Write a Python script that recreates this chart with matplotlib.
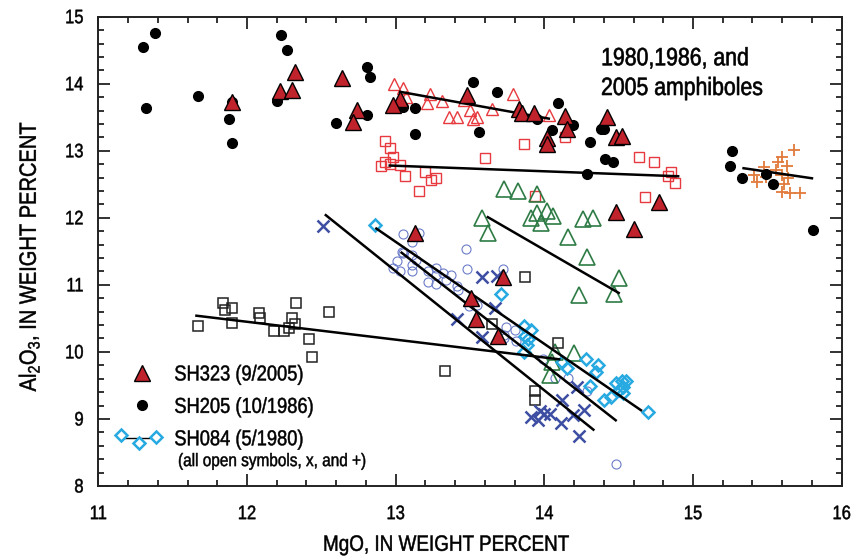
import matplotlib
matplotlib.use("Agg")
import matplotlib.pyplot as plt
from matplotlib.lines import Line2D
from matplotlib.ticker import MultipleLocator
from matplotlib.patheffects import AbstractPathEffect
from matplotlib.transforms import Affine2D

plt.rcParams['font.family'] = ['Liberation Sans', 'DejaVu Sans']
plt.rcParams['mathtext.fontset'] = 'custom'
plt.rcParams['mathtext.rm'] = 'Liberation Sans'
plt.rcParams['mathtext.it'] = 'Liberation Sans'

# ---------------- data ----------------
sh323_x = [11.90, 12.22, 12.30, 12.32, 12.64, 12.74, 12.71, 13.03, 12.98, 13.48, 13.83, 13.85, 13.93, 14.14,
           14.15, 14.02, 14.02, 14.42, 14.48, 14.52, 14.48, 14.60, 14.77, 13.72, 13.13, 13.51, 13.54, 13.69]
sh323_y = [13.73, 13.89, 13.91, 14.18, 14.09, 13.61, 13.43, 13.77, 13.68, 13.83, 13.63, 13.56, 13.56, 13.52,
           13.32, 13.19, 13.10, 13.50, 13.21, 13.22, 12.08, 11.83, 12.23, 11.11, 11.77, 10.80, 10.49, 10.24]

sh205_x = [11.30, 11.38, 11.32, 11.67, 11.90, 11.88, 11.90, 12.23, 12.27, 12.20, 12.60, 12.81, 12.83, 12.81,
           13.05, 13.13, 13.13, 13.52, 13.68, 13.56, 14.09, 14.05, 14.19, 13.95, 14.31, 14.38, 14.40, 14.41,
           14.46, 14.29, 15.26, 15.25, 15.33, 15.49, 15.54, 15.81]
sh205_y = [14.55, 14.75, 13.64, 13.82, 13.73, 13.48, 13.11, 14.72, 14.50, 13.75, 13.42, 14.25, 14.10, 13.53,
           13.66, 13.64, 13.25, 14.02, 13.87, 13.28, 13.72, 13.31, 13.39, 13.47, 13.13, 13.33, 13.32, 12.88,
           12.83, 12.66, 12.99, 12.77, 12.59, 12.65, 12.50, 11.82]

# SH084 (5/1980) groups
red_tri_x = [12.99, 13.05, 13.07, 13.23, 13.21, 13.31, 13.36, 13.41, 13.50, 13.46, 13.52, 13.55, 13.65, 13.79, 14.03]
red_tri_y = [13.99, 13.93, 13.80, 13.85, 13.72, 13.75, 13.50, 13.51, 13.61, 13.76, 13.48, 13.50, 13.62, 13.85, 13.53]

red_sq_x = [12.93, 12.96, 12.98, 12.93, 12.90, 12.96, 13.03, 13.06, 13.20, 13.24, 13.27, 13.16, 13.60, 13.86,
            13.94, 14.14, 14.64, 14.74, 14.85, 14.83, 14.88, 14.68]
red_sq_y = [13.14, 13.04, 12.90, 12.84, 12.78, 12.80, 12.79, 12.62, 12.68, 12.56, 12.59, 12.40, 12.89, 13.10,
            12.33, 13.21, 12.90, 12.84, 12.68, 12.62, 12.52, 12.31]

green_tri_x = [13.73, 13.82, 13.95, 13.91, 13.95, 13.98, 14.02, 14.06, 14.16, 14.26, 14.33, 14.29, 14.50, 14.47,
               14.23, 13.58, 13.62, 14.07, 14.20, 14.05, 14.04]
green_tri_y = [12.43, 12.40, 12.36, 11.99, 12.07, 11.93, 12.10, 12.03, 11.71, 11.98, 12.00, 11.41, 11.10, 10.86,
               10.85, 11.99, 11.77, 10.00, 9.98, 9.85, 9.65]

black_sq_x = [11.67, 11.84, 11.85, 11.90, 11.90, 12.08, 12.09, 12.18, 12.25, 12.28, 12.30, 12.32, 12.33, 12.42,
              12.44, 12.55, 13.87, 13.65, 14.09, 13.33, 13.94, 13.94]
black_sq_y = [10.39, 10.73, 10.62, 10.65, 10.43, 10.58, 10.50, 10.31, 10.31, 10.35, 10.50, 10.42, 10.73, 10.19,
              9.93, 10.59, 11.11, 10.41, 10.14, 9.72, 9.42, 9.29]

blue_x_x = [12.51, 13.58, 13.68, 13.67, 13.41, 13.58, 14.12, 14.22, 14.27, 14.19, 14.11, 14.23, 13.91, 13.97,
            14.00, 14.04, 13.96]
blue_x_y = [11.88, 11.12, 11.13, 10.65, 10.49, 10.22, 9.29, 9.48, 9.14, 9.06, 8.94, 8.74, 9.03, 9.12,
            9.08, 9.07, 8.99]

diamond_x = [12.86, 13.71, 13.86, 13.91, 13.87, 13.89, 13.88, 13.86, 14.28, 14.36, 14.35, 14.15, 14.12, 14.31,
             14.40, 14.45, 14.48, 14.52, 14.55, 14.50, 14.53, 14.53, 14.70]
diamond_y = [11.89, 10.87, 10.38, 10.33, 10.23, 10.19, 10.10, 10.00, 9.89, 9.80, 9.70, 9.76, 9.85, 9.49,
             9.29, 9.33, 9.53, 9.56, 9.56, 9.43, 9.38, 9.48, 9.11]

circle_x = [13.05, 13.11, 13.16, 13.04, 13.05, 13.11, 13.14, 13.01, 12.98, 13.03, 13.11, 13.11, 13.22, 13.27,
            13.27, 13.32, 13.37, 13.22, 13.27, 13.34, 13.41, 13.42, 13.47, 13.48, 13.72, 13.49, 13.55, 13.74,
            13.80, 13.73, 13.81, 13.99, 14.07, 14.16, 14.29, 14.48, 13.73]
circle_y = [11.76, 11.64, 11.77, 11.49, 11.47, 11.44, 11.37, 11.35, 11.25, 11.21, 11.30, 11.20, 11.20, 11.25,
            11.15, 11.17, 11.15, 11.05, 11.02, 11.07, 10.98, 10.92, 11.53, 11.23, 11.23, 10.68, 10.70, 10.37,
            10.33, 10.25, 10.16, 9.90, 9.61, 9.61, 9.41, 8.33, 10.20]

plus_x = [15.60, 15.68, 15.57, 15.63, 15.48, 15.41, 15.43, 15.49, 15.56, 15.60, 15.64, 15.61, 15.65, 15.72, 15.60]
plus_y = [12.91, 13.01, 12.84, 12.77, 12.76, 12.64, 12.54, 12.61, 12.71, 12.64, 12.59, 12.51, 12.37, 12.37, 12.39]

# regression lines (start, end)
fit_x = [[13.03, 14.03], [12.96, 14.90], [15.34, 15.80], [13.62, 14.50],
         [11.66, 14.10], [12.87, 14.65], [13.04, 14.48], [12.53, 14.33]]
fit_y = [[13.88, 13.48], [12.78, 12.62], [12.74, 12.59], [12.01, 10.88],
         [10.54, 9.89], [11.84, 9.13], [11.48, 8.98], [12.04, 8.84]]

x_ticks = [11, 12, 13, 14, 15, 16]
y_ticks = [8, 9, 10, 11, 12, 13, 14, 15]
legend_labels = ['SH323 (9/2005)', 'SH205 (10/1986)', 'SH084 (5/1980)']

# ---------------- colours ----------------
C_RED_FILL = '#c0232b'
C_RED = '#e63a3f'
C_GREEN = '#2e7b45'
C_BLUE_X = '#3d4ea3'
C_DIAM = '#27aae1'
C_CIRC = '#6b7cc8'
C_ORANGE = '#e07b3c'
C_BSQ = '#222222'


class Condensed(AbstractPathEffect):
    """Draw text horizontally condensed (emulates a condensed typeface)."""

    def __init__(self, scale=0.85, anchor='center', stroke=0.35):
        super().__init__()
        self.scale = scale
        self.anchor = anchor
        self.stroke = stroke

    def draw_path(self, renderer, gc, tpath, affine, rgbFace=None):
        ext = tpath.get_extents()
        if self.anchor == 'left':
            cx = ext.x0
        elif self.anchor == 'right':
            cx = ext.x1
        else:
            cx = 0.5 * (ext.x0 + ext.x1)
        t = Affine2D().translate(-cx, 0).scale(self.scale, 1.0).translate(cx, 0) + affine
        gc0 = renderer.new_gc()
        gc0.copy_properties(gc)
        if self.stroke and rgbFace is not None:
            gc0.set_linewidth(self.stroke)
            gc0.set_foreground(rgbFace)
        renderer.draw_path(gc0, tpath, t, rgbFace)
        gc0.restore()


S = 0.85

fig = plt.figure(figsize=(8.52, 5.57), dpi=100)
ax = fig.add_axes([0.1154, 0.1275, 0.8725, 0.8425])

# open symbols (SH084)
ax.plot(circle_x, circle_y, ls='none', marker='o', ms=6.5, mfc='none', mec=C_CIRC, mew=0.8, zorder=2)
ax.plot(red_tri_x, red_tri_y, ls='none', marker='^', ms=8, mfc='none', mec=C_RED, mew=1.0, zorder=2)
ax.plot(red_sq_x, red_sq_y, ls='none', marker='s', ms=7.5, mfc='none', mec=C_RED, mew=1.0, zorder=2)
ax.plot(green_tri_x, green_tri_y, ls='none', marker='^', ms=11, mfc='none', mec=C_GREEN, mew=1.2, zorder=2)
ax.plot(black_sq_x, black_sq_y, ls='none', marker='s', ms=7.5, mfc='none', mec=C_BSQ, mew=1.1, zorder=2)
ax.plot(blue_x_x, blue_x_y, ls='none', marker='x', ms=8.5, mec=C_BLUE_X, mew=1.8, zorder=2)
ax.plot(diamond_x, diamond_y, ls='none', marker='D', ms=6.5, mfc='none', mec=C_DIAM, mew=1.8, zorder=2)
ax.plot(plus_x, plus_y, ls='none', marker='+', ms=9, mec=C_ORANGE, mew=1.3, zorder=2)

# SH205 and SH323
ax.plot(sh205_x, sh205_y, ls='none', marker='o', ms=7, mfc='black', mec='black', zorder=3)
ax.plot(sh323_x, sh323_y, ls='none', marker='^', ms=11, mfc=C_RED_FILL, mec='black', mew=1.0, zorder=4)

for xs, ys in zip(fit_x, fit_y):
    ax.plot(xs, ys, color='black', lw=1.8, zorder=3.5)

ax.set_xlim(11, 16)
ax.set_ylim(8, 15)
ax.set_xticks(x_ticks)
ax.set_yticks(y_ticks)
ax.xaxis.set_minor_locator(MultipleLocator(0.2))
ax.yaxis.set_minor_locator(MultipleLocator(0.2))
ax.tick_params(which='both', direction='in', top=True, right=True, color='#222222', width=1.3)
ax.tick_params(which='major', length=8.5)
ax.tick_params(which='minor', length=4.3)
ax.tick_params(axis='x', which='major', pad=14.5, labelsize=14)
ax.tick_params(axis='y', which='major', pad=10.5, labelsize=14)
for sp in ax.spines.values():
    sp.set_linewidth(1.4)
    sp.set_color('#222222')

for lab in ax.get_xticklabels():
    lab.set_path_effects([Condensed(S, 'center')])
for lab in ax.get_yticklabels():
    lab.set_path_effects([Condensed(S, 'right')])

xl = ax.set_xlabel('MgO, IN WEIGHT PERCENT', fontsize=16)
xl.set_path_effects([Condensed(S, 'center')])
ax.xaxis.set_label_coords(0.468, -0.104)
yl = ax.set_ylabel(r'Al$_\mathrm{2}$O$_\mathrm{3}$, IN WEIGHT PERCENT', fontsize=17)
yl.set_path_effects([Condensed(S, 'center')])
ax.yaxis.set_label_coords(-0.076, 0.49)

ann = ax.text(0.676, 0.937, '1980,1986, and\n2005 amphiboles', transform=ax.transAxes,
              fontsize=18, va='top', ha='left', linespacing=1.3)
ann.set_path_effects([Condensed(S, 'left', 0.45)])


# ---------------- legend ----------------
class MarkerHandler:
    def __init__(self, xfr, yfr, line=False, **kw):
        self.xfr, self.yfr, self.line, self.kw = xfr, yfr, line, kw

    def legend_artist(self, legend, orig_handle, fontsize, handlebox):
        x0, y0 = handlebox.xdescent, handlebox.ydescent
        w, h = handlebox.width, handlebox.height
        tr = handlebox.get_transform()
        if self.line:
            ln = Line2D([x0 + w * self.xfr[0], x0 + w * self.xfr[-1]], [y0 + h * 0.5] * 2,
                        color='black', lw=1.0, transform=tr)
            handlebox.add_artist(ln)
        mk = Line2D([x0 + w * f for f in self.xfr], [y0 + h * f for f in self.yfr],
                    ls='none', transform=tr, **self.kw)
        handlebox.add_artist(mk)
        return mk


h1 = Line2D([], [])
h2 = Line2D([], [])
h3 = Line2D([], [])
hmap = {
    h1: MarkerHandler([0.6], [0.5], marker='^', ms=11, mfc=C_RED_FILL, mec='black', mew=1.0),
    h2: MarkerHandler([0.6], [0.5], marker='o', ms=7, mfc='black', mec='black'),
    h3: MarkerHandler([0.0, 0.5, 1.0], [0.68, 0.17, 0.55], line=True, marker='D', ms=6.5,
                      mfc='white', mec=C_DIAM, mew=1.8),
}
leg = ax.legend([h1, h2, h3], legend_labels,
                handler_map=hmap, loc='upper left', bbox_to_anchor=(0.0305, 0.259),
                frameon=False, fontsize=15.5, handlelength=1.63, handletextpad=0.84,
                labelspacing=0.53, borderpad=0, borderaxespad=0)
for t in leg.get_texts():
    t.set_path_effects([Condensed(S, 'left')])
small = ax.text(0.107, 0.052, '(all open symbols, x, and +)', transform=ax.transAxes,
                fontsize=13, va='center', ha='left')
small.set_path_effects([Condensed(S, 'left')])

fig.savefig('out.png', dpi=100)
